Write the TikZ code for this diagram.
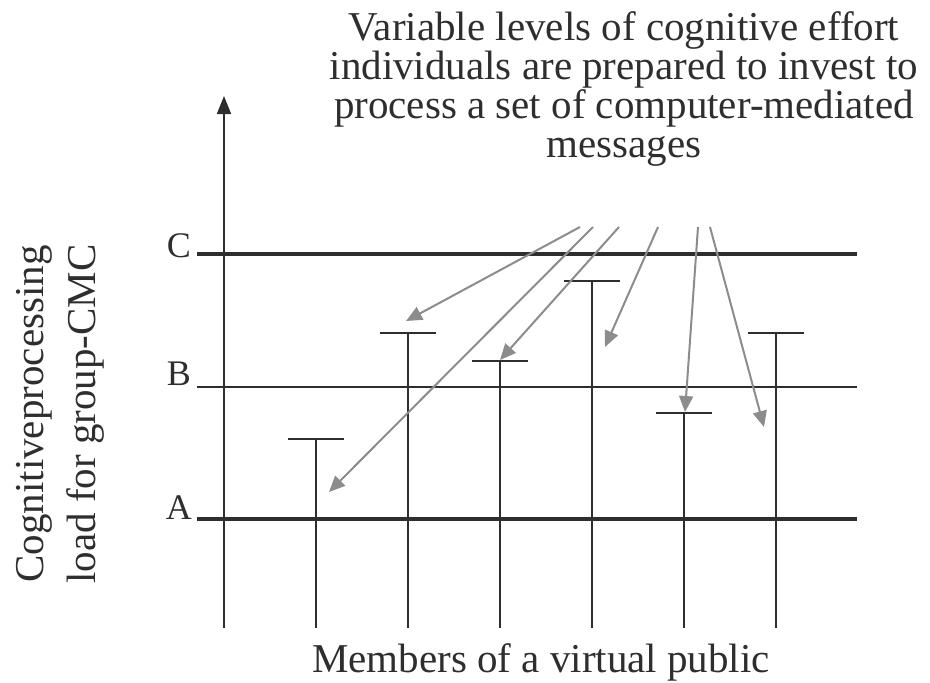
\documentclass[tikz,border=0pt]{standalone}
\usepackage{fontspec}
\setmainfont{Liberation Serif}
\usetikzlibrary{arrows.meta}
\definecolor{ink}{HTML}{2E2E2E}
\definecolor{arr}{HTML}{8C8C8C}
\begin{document}
\begin{tikzpicture}[x=1pt,y=-1pt,
  thinline/.style={draw=ink,line width=1.8pt},
  thickline/.style={draw=ink,line width=3.6pt},
  pointer/.style={draw=arr,line width=2pt,-{Triangle[length=16pt,width=14pt]}},
  txt/.style={font=\fontsize{41}{39}\selectfont,text=ink,inner sep=0pt},
  lvl/.style={font=\fontsize{36}{40}\selectfont,text=ink,inner sep=0pt,anchor=base east}]
\useasboundingbox (0,0) rectangle (930,683);
% axis
\coordinate (ax0) at (224,628);
\coordinate (ax1) at (224,96);
\draw[thinline,-{Triangle[length=18pt,width=14pt]}] (ax0) -- (ax1);
% levels
\coordinate (C0) at (197,254); \coordinate (C1) at (857,254);
\coordinate (B0) at (197,387); \coordinate (B1) at (857,387);
\coordinate (A0) at (197,519); \coordinate (A1) at (857,519);
\draw[thickline] (C0) -- (C1);
\draw[thinline] (B0) -- (B1);
\draw[thickline] (A0) -- (A1);
\node[lvl] (lC) at (191,257) {C};
\node[lvl] (lB) at (191,385) {B};
\node[lvl] (lA) at (192,519) {A};
% bars
\foreach \n/\x/\t in {1/316/439, 2/408/333, 3/500/361, 4/592/281, 5/684/413, 6/776/333}{
  \coordinate (b\n) at (\x,628);
  \coordinate (t\n) at (\x,\t);
  \coordinate (tl\n) at (\x-28,\t);
  \coordinate (tr\n) at (\x+28,\t);
  \draw[thinline] (b\n) -- (t\n);
  \draw[thinline] (tl\n) -- (tr\n);
}
% pointers
\coordinate (s1) at (580,227); \coordinate (e1) at (406,321);
\coordinate (s2) at (593,227); \coordinate (e2) at (329,492);
\coordinate (s3) at (619,227); \coordinate (e3) at (500,360);
\coordinate (s4) at (658,227); \coordinate (e4) at (605,347);
\coordinate (s5) at (698,227); \coordinate (e5) at (685,412);
\coordinate (s6) at (710,227); \coordinate (e6) at (764,427);
\foreach \n in {1,...,6}{\draw[pointer] (s\n) -- (e\n);}
% texts
\node[txt,align=center,anchor=north] (title) at (624,11)
  {Variable levels of cognitive effort\\individuals are prepared to invest to\\process a set of computer-mediated\\messages};
\node[txt,anchor=base] (xlab) at (541,672) {Members of a virtual public};
\node[txt,font=\fontsize{41}{52}\selectfont,align=center,rotate=90] (ylab) at (60,414) {Cognitiveprocessing\\load for group-CMC};
\end{tikzpicture}
\end{document}
